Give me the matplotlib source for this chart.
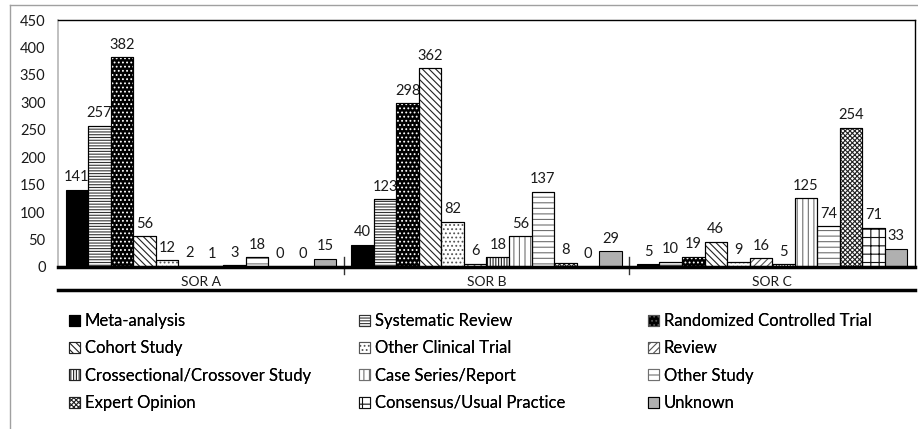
import matplotlib
matplotlib.use("Agg")
import matplotlib.pyplot as plt
from matplotlib.lines import Line2D
import numpy as np

# data
groups = ["SOR A", "SOR B", "SOR C"]
series = ["Meta-analysis", "Systematic Review", "Randomized Controlled Trial",
          "Cohort Study", "Other Clinical Trial", "Review",
          "Crossectional/Crossover Study", "Case Series/Report", "Other Study",
          "Expert Opinion", "Consensus/Usual Practice", "Unknown"]
meta = [141, 40, 5]
systematic = [257, 123, 10]
rct = [382, 298, 19]
cohort = [56, 362, 46]
other_clinical = [12, 82, 9]
review = [2, 6, 16]
crossectional = [1, 18, 5]
case_series = [3, 56, 125]
other_study = [18, 137, 74]
expert = [0, 8, 254]
consensus = [0, 0, 71]
unknown = [15, 29, 33]
values = [meta, systematic, rct, cohort, other_clinical, review,
          crossectional, case_series, other_study, expert, consensus, unknown]
yticks = list(range(0, 451, 50))

# (facecolor, hatch, hatchcolor)
styles = [
    ("black", None, None),
    ("white", "------", "#333333"),
    ("black", "....", "white"),
    ("white", "\\\\\\\\\\", "#222222"),
    ("white", "....", "#555555"),
    ("white", "/////", "#555555"),
    ("white", "||||||", "#222222"),
    ("white", "|||", "#707070"),
    ("white", "---", "#707070"),
    ("white", "xxxxxxx", "#222222"),
    ("white", "++", "#111111"),
    ("#b0b0b0", None, None),
]

plt.rcParams['font.family'] = ['Lato', 'DejaVu Sans']
plt.rcParams['hatch.linewidth'] = 0.8

fig = plt.figure(figsize=(9.18, 4.29), dpi=100)
ax = fig.add_axes([58 / 918, 1 - 267 / 429, 857 / 918, 247 / 429])

x = np.arange(len(groups))
n = len(series)
w = 1 / 12.67
handles = []
for i, (name, vals) in enumerate(zip(series, values)):
    fc, hatch, hc = styles[i]
    pos = x + (i - (n - 1) / 2) * w
    ax.bar(pos, vals, w, color=fc, edgecolor="black", linewidth=0.8,
           label=name, zorder=2)
    if hatch:
        ax.bar(pos, vals, w, fill=False, edgecolor=hc, hatch=hatch,
               linewidth=0, zorder=3)
        ax.bar(pos, vals, w, fill=False, edgecolor="black", linewidth=0.8,
               zorder=4)
    # legend swatch; a black swatch gets grey dots so its square stays black
    swatch_edge = "#555555" if fc == "black" and hatch else (hc or "black")
    handle = ax.bar([0], [0], 0, color=fc, edgecolor=swatch_edge,
                    linewidth=0.8, hatch=hatch)
    handles.append(handle.patches[0])
    for p, v in zip(pos, vals):
        ax.annotate(str(v), (p, v), xytext=(0, 4), textcoords="offset points",
                    ha="center", va="bottom", fontsize=10.5, color="#1a1a1a")

ax.set_xlim(-0.5, len(groups) - 0.5)
ax.set_ylim(0, 450)
ax.set_yticks(yticks)
ax.tick_params(axis="y", length=0, labelsize=10.5, pad=9, labelcolor="#1a1a1a")
ax.set_xticks([])
for s in ["top", "right"]:
    ax.spines[s].set_color("black")
    ax.spines[s].set_linewidth(1.0)
ax.spines["left"].set_color("#b5b5b5")
ax.spines["left"].set_linewidth(1.2)
ax.spines["bottom"].set_color("black")
ax.spines["bottom"].set_linewidth(2.5)
ax.spines["bottom"].set_zorder(5)

# group separators crossing the baseline
for b in x[:-1] + 0.5:
    ax.plot([b, b], [-0.03, 0.04], transform=ax.get_xaxis_transform(),
            color="#333333", lw=1, clip_on=False)

# group labels and second axis line
for xi, g in zip(x, groups):
    ax.text(xi, -0.062, g, transform=ax.get_xaxis_transform(), ha="center",
            va="center", fontsize=10, color="#1a1a1a")
ax.plot([0, 1], [-0.093, -0.093], transform=ax.transAxes, color="black",
        lw=2.5, clip_on=False)

# outer frame (left and top edges visible)
fig.add_artist(Line2D([10 / 918, 10 / 918], [0, 1 - 5 / 429],
                      transform=fig.transFigure, color="#a0a0a0", lw=1))
fig.add_artist(Line2D([10 / 918, 1], [1 - 5 / 429, 1 - 5 / 429],
                      transform=fig.transFigure, color="#a0a0a0", lw=1))

# legend: three columns, row-major order
col_x = [69 / 918, 359 / 918, 648 / 918]
for c in range(3):
    idx = [c, c + 3, c + 6, c + 9]
    leg = fig.legend([handles[k] for k in idx], [series[k] for k in idx],
                     loc="upper left", bbox_to_anchor=(col_x[c], 1 - 313 / 429),
                     frameon=False, fontsize=12, handlelength=0.65,
                     handleheight=0.65, handletextpad=0.3, labelspacing=0.68,
                     borderaxespad=0, borderpad=0)
    fig.add_artist(leg)

fig.savefig("out.png", dpi=100)
